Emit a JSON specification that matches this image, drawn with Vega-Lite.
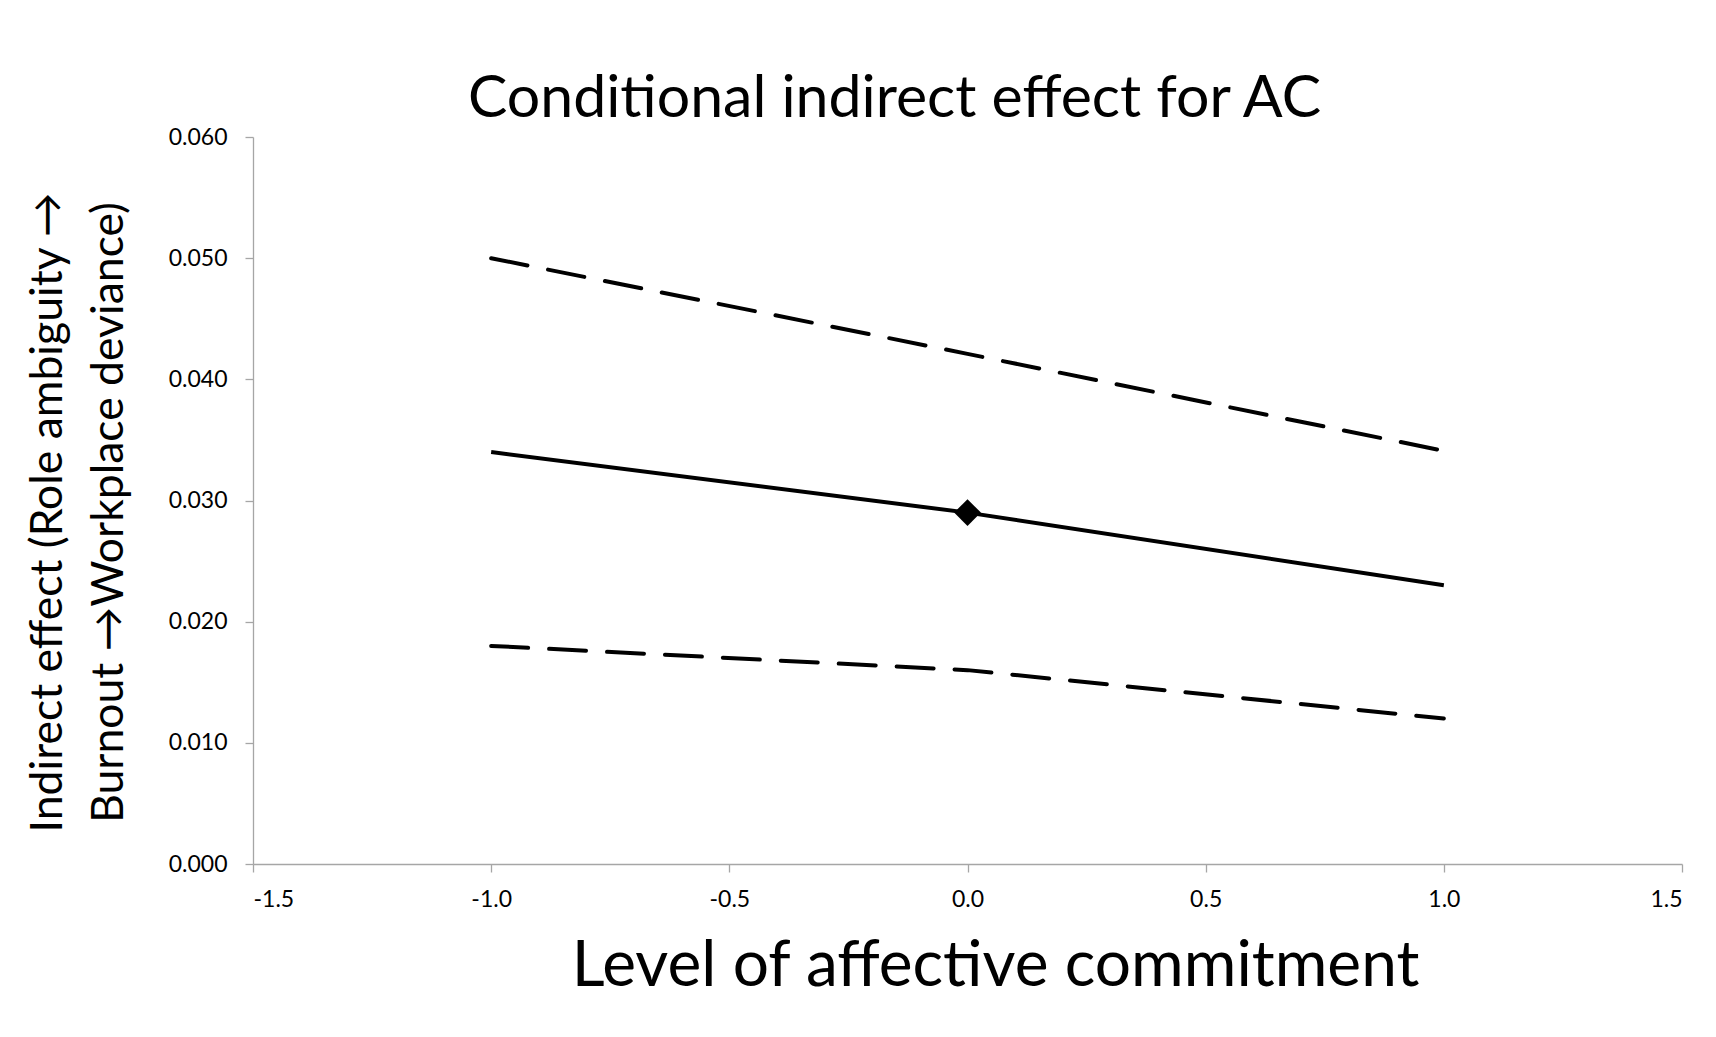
{
  "$schema": "https://vega.github.io/schema/vega-lite/v6.json",
  "width": 1429,
  "height": 727,
  "autosize": {"type": "none"},
  "padding": {"left": 253, "top": 137, "right": 34, "bottom": 173},
  "background": "white",
  "config": {
    "view": {"stroke": null},
    "font": "Lato",
    "axis": {
      "domainColor": "#a6a6a6",
      "tickColor": "#a6a6a6",
      "domainWidth": 1.3,
      "tickWidth": 1.3,
      "tickSize": 8,
      "grid": false,
      "labelFont": "Lato",
      "labelFontSize": 23,
      "labelColor": "#000000",
      "titleFont": "Lato",
      "titleColor": "#000000",
      "titleFontWeight": "normal"
    }
  },
  "title": {
    "text": "Conditional indirect effect for AC",
    "font": "Lato",
    "fontSize": 59,
    "fontWeight": "normal",
    "color": "#000000",
    "anchor": "middle",
    "dx": -73,
    "offset": -3
  },
  "data": {
    "values": [
      {"x": -1, "y": 0.0340, "series": "Effect"},
      {"x": 0, "y": 0.0290, "series": "Effect"},
      {"x": 1, "y": 0.0230, "series": "Effect"},
      {"x": -1, "y": 0.0500, "series": "Upper"},
      {"x": 0, "y": 0.0421, "series": "Upper"},
      {"x": 1, "y": 0.0341, "series": "Upper"},
      {"x": -1, "y": 0.0180, "series": "Lower"},
      {"x": 0, "y": 0.0160, "series": "Lower"},
      {"x": 1, "y": 0.0120, "series": "Lower"}
    ]
  },
  "encoding": {
    "x": {
      "field": "x",
      "type": "quantitative",
      "scale": {"domain": [-1.5, 1.5], "nice": false, "zero": false},
      "axis": {
        "values": [-1.5, -1.0, -0.5, 0.0, 0.5, 1.0, 1.5],
        "format": ".1f",
        "labelExpr": "replace(datum.label, '\u2212', '-')",
        "labelPadding": 16,
        "title": "Level of affective commitment",
        "titleFontSize": 64,
        "titlePadding": 23,
        "titleX": 742,
        "titleAnchor": "middle"
      }
    },
    "y": {
      "field": "y",
      "type": "quantitative",
      "scale": {"domain": [0, 0.06], "nice": false},
      "axis": {
        "values": [0, 0.01, 0.02, 0.03, 0.04, 0.05, 0.06],
        "format": ".3f",
        "labelPadding": 18,
        "title": ["Indirect effect (Role ambiguity \u2192", "Burnout \u2192Workplace deviance)"],
        "titleFontSize": 44.5,
        "titleLineHeight": 61,
        "titlePadding": 37,
        "titleY": 375
      }
    }
  },
  "layer": [
    {
      "transform": [{"filter": "datum.series === 'Effect'"}],
      "mark": {"type": "line", "color": "#000000", "strokeWidth": 4},
      "encoding": {}
    },
    {
      "transform": [{"filter": "datum.series !== 'Effect'"}],
      "mark": {"type": "line", "color": "#000000", "strokeWidth": 4, "strokeDash": [37, 21], "strokeCap": "round"},
      "encoding": {"detail": {"field": "series"}}
    },
    {
      "transform": [{"filter": "datum.series === 'Effect' && datum.x === 0"}],
      "mark": {"type": "point", "shape": "diamond", "filled": true, "color": "#000000", "size": 720, "opacity": 1},
      "encoding": {}
    }
  ]
}
